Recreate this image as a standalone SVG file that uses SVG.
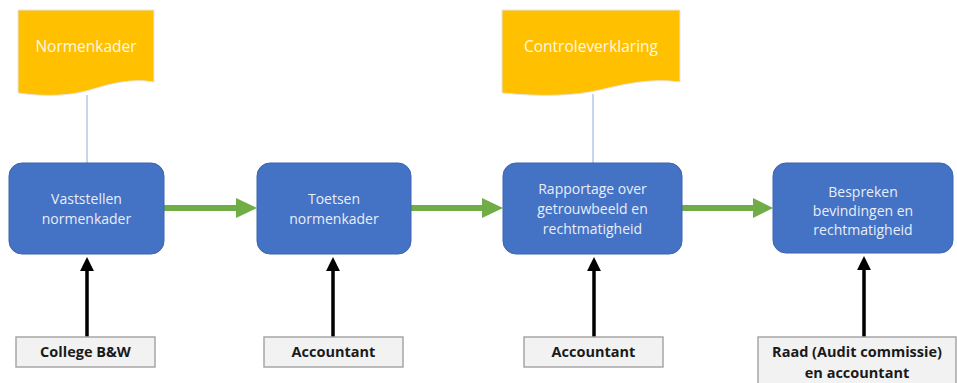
<svg xmlns="http://www.w3.org/2000/svg" width="957" height="383" viewBox="0 0 957 383">
<style>
.doc{fill:#ffc000;stroke:#e6e6e6;stroke-width:1}
.dt{font-family:"Open Sans","Liberation Sans",sans-serif;font-size:15.5px;fill:#fff8e0;text-anchor:middle}
.box{fill:#4472c4;stroke:#3b64ad;stroke-width:1}
.bt{font-family:"Open Sans","Liberation Sans",sans-serif;font-size:14px;fill:#e8eefa;text-anchor:middle}
.lab{fill:#f2f2f2;stroke:#a6a6a6;stroke-width:1.5}
.lt{font-family:"Open Sans","Liberation Sans",sans-serif;font-size:14.5px;font-weight:bold;fill:#1a1a1a;text-anchor:middle}
.thin{stroke:#8faadc;stroke-width:1;fill:none}
.green{stroke:#70ad47;stroke-width:6;fill:none}
.gh{fill:#70ad47}
.blk{stroke:#000;stroke-width:3.5;fill:none}
</style>
<defs>
<marker id="bh" markerWidth="4" markerHeight="4" refX="2.6" refY="2" orient="auto" markerUnits="strokeWidth" viewBox="0 0 4 4"><path d="M0,0 L4,2 L0,4 z" fill="#000"/></marker>
</defs>
<g id="connectors">
<line class="thin" x1="87" y1="95" x2="87" y2="163"/>
<line class="thin" x1="593" y1="94" x2="593" y2="163"/>
<line class="green" x1="164" y1="208" x2="238" y2="208"/>
<path class="gh" d="M236,198 L257,208 L236,218 z"/>
<line class="green" x1="411" y1="208" x2="484" y2="208"/>
<path class="gh" d="M482,198 L503,208 L482,218 z"/>
<line class="green" x1="682" y1="208" x2="755" y2="208"/>
<path class="gh" d="M753,198 L773,208 L753,218 z"/>
<line class="blk" x1="87" y1="337" x2="87" y2="262" marker-end="url(#bh)"/>
<line class="blk" x1="333" y1="337" x2="333" y2="262" marker-end="url(#bh)"/>
<line class="blk" x1="594" y1="337" x2="594" y2="262" marker-end="url(#bh)"/>
<line class="blk" x1="864" y1="337" x2="864" y2="261" marker-end="url(#bh)"/>
</g>
<g id="doc1">
<path class="doc" d="M18,10 H154 V82 C130,78 110,84 90,90 C70,96 45,97 18,93 Z"/>
<text class="dt" x="86" y="52">Normenkader</text>
</g>
<g id="doc2">
<path class="doc" d="M502,10 H680 V82 C650,78 625,84 600,90 C575,96 540,97 502,93 Z"/>
<text class="dt" x="591" y="52">Controleverklaring</text>
</g>
<g id="box1">
<rect class="box" x="9" y="163" width="155" height="91" rx="13"/>
<text class="bt" x="86.5" y="204">Vaststellen</text>
<text class="bt" x="86.5" y="224">normenkader</text>
</g>
<g id="box2">
<rect class="box" x="257" y="163" width="154" height="91" rx="13"/>
<text class="bt" x="334" y="204">Toetsen</text>
<text class="bt" x="334" y="224">normenkader</text>
</g>
<g id="box3">
<rect class="box" x="503" y="163" width="179" height="91" rx="13"/>
<text class="bt" x="592.5" y="194">Rapportage over</text>
<text class="bt" x="592.5" y="214">getrouwbeeld en</text>
<text class="bt" x="592.5" y="234">rechtmatigheid</text>
</g>
<g id="box4">
<rect class="box" x="773" y="163" width="180" height="90" rx="13"/>
<text class="bt" x="863" y="197">Bespreken</text>
<text class="bt" x="863" y="216">bevindingen en</text>
<text class="bt" x="863" y="235">rechtmatigheid</text>
</g>
<g id="lab1">
<rect class="lab" x="16" y="337" width="139" height="30"/>
<text class="lt" x="85.5" y="357">College B&amp;W</text>
</g>
<g id="lab2">
<rect class="lab" x="264" y="337" width="139" height="30"/>
<text class="lt" x="333.5" y="357">Accountant</text>
</g>
<g id="lab3">
<rect class="lab" x="524" y="337" width="139" height="30"/>
<text class="lt" x="593.5" y="357">Accountant</text>
</g>
<g id="lab4">
<rect class="lab" x="758" y="337" width="198" height="50"/>
<text class="lt" x="857" y="357">Raad (Audit commissie)</text>
<text class="lt" x="857" y="378">en accountant</text>
</g>
</svg>
